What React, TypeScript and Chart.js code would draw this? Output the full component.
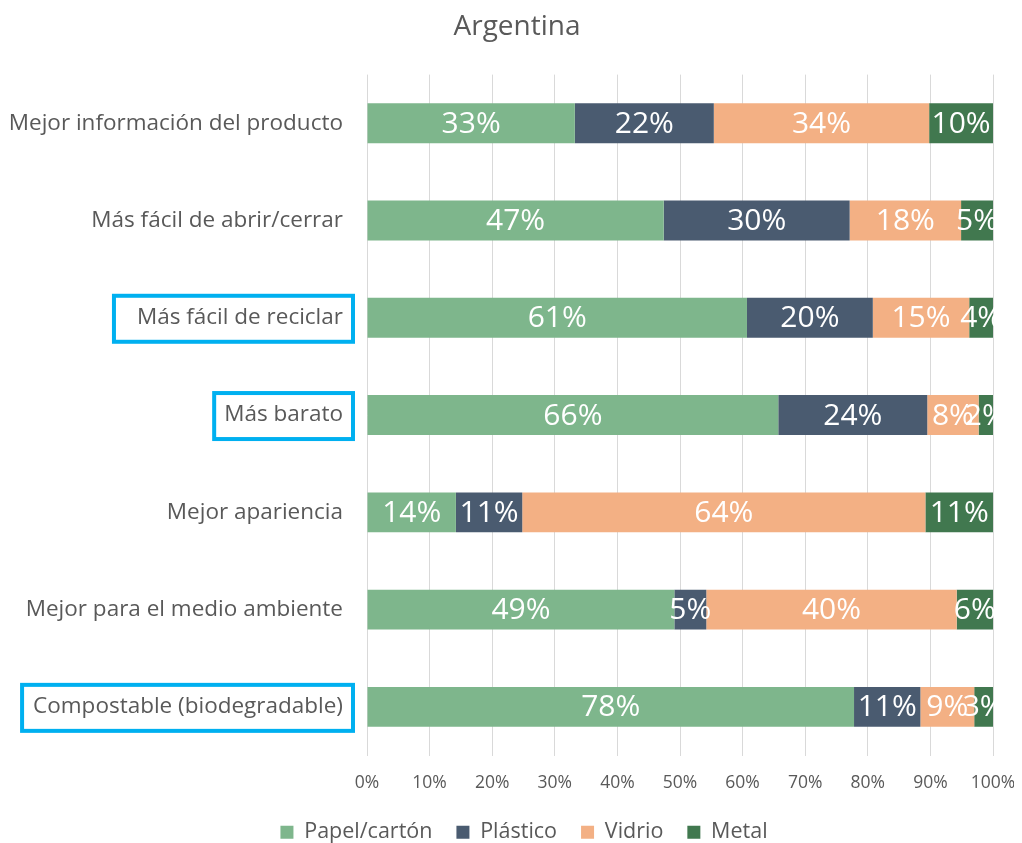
import React, { useEffect, useRef } from "react";
import { Chart, registerables } from "chart.js";

Chart.register(...registerables);

const categories = [
  "Mejor información del producto",
  "Más fácil de abrir/cerrar",
  "Más fácil de reciclar",
  "Más barato",
  "Mejor apariencia",
  "Mejor para el medio ambiente",
  "Compostable (biodegradable)",
];

const papel = [33.2, 47.4, 60.7, 65.7, 14.2, 49.1, 77.8];
const plastico = [22.2, 29.7, 20.1, 23.8, 10.6, 5.1, 10.6];
const vidrio = [34.4, 17.8, 15.4, 8.2, 64.4, 40.0, 8.6];
const metal = [10.2, 5.1, 3.8, 2.3, 10.8, 5.8, 3.0];

const seriesNames = ["Papel/cartón", "Plástico", "Vidrio", "Metal"];
const seriesColors = ["#7EB68C", "#4A5B70", "#F3B084", "#41784F"];

const chartTitle = "Argentina";
const highlighted = ["Más fácil de reciclar", "Más barato", "Compostable (biodegradable)"];
const highlightLeftPad = [23, 10, 11];

const FONT = "'Open Sans', sans-serif";
const TEXT = "#595959";
const LABEL_SIZE = 22.5;

export default function App() {
  const ref = useRef<HTMLCanvasElement>(null);

  useEffect(() => {
    if (!ref.current) return;

    const dataLabels = {
      id: "dataLabels",
      afterDatasetsDraw(chart: any) {
        const ctx = chart.ctx;
        ctx.save();
        ctx.font = `30px ${FONT}`;
        ctx.fillStyle = "#FFFFFF";
        ctx.textAlign = "center";
        ctx.textBaseline = "middle";
        chart.data.datasets.forEach((ds: any, i: number) => {
          const meta = chart.getDatasetMeta(i);
          meta.data.forEach((bar: any, j: number) => {
            const v = ds.data[j];
            const { x, y, base } = bar.getProps(["x", "y", "base"], true);
            ctx.fillText(Math.round(v) + "%", (x + base) / 2, y + 1);
          });
        });
        ctx.restore();
      },
    };

    const highlightBoxes = {
      id: "highlightBoxes",
      afterDraw(chart: any) {
        const ys = chart.scales.y;
        const ctx = chart.ctx;
        ctx.save();
        ctx.font = `${LABEL_SIZE}px ${FONT}`;
        ctx.strokeStyle = "#00B0F0";
        ctx.lineWidth = 4;
        const labelRight = ys.right - 24;
        highlighted.forEach((lab, k) => {
          const idx = categories.indexOf(lab);
          const cy = ys.getPixelForValue(idx);
          const w = ctx.measureText(lab).width;
          const x0 = labelRight - w - highlightLeftPad[k];
          const x1 = labelRight + 10;
          ctx.strokeRect(x0, cy - 22, x1 - x0, 46);
        });
        ctx.restore();
      },
    };

    const shiftBlocks = {
      id: "shiftBlocks",
      afterLayout(chart: any) {
        if (chart.legend) {
          chart.legend.left += 13;
          chart.legend.right += 13;
        }
        if (chart.titleBlock) {
          chart.titleBlock.left += 6;
          chart.titleBlock.right += 6;
        }
      },
    };

    const seriesData = [papel, plastico, vidrio, metal];

    const chart = new Chart(ref.current, {
      type: "bar",
      data: {
        labels: categories,
        datasets: seriesNames.map((name, i) => ({
          label: name,
          data: seriesData[i],
          backgroundColor: seriesColors[i],
          borderWidth: 0,
          barPercentage: 0.41,
          categoryPercentage: 1,
        })),
      },
      options: {
        indexAxis: "y",
        responsive: true,
        maintainAspectRatio: false,
        animation: false,
        layout: { padding: { left: 0, right: 0, top: 0, bottom: 6 } },
        plugins: {
          title: {
            display: true,
            text: chartTitle,
            color: TEXT,
            font: { family: FONT, size: 28, weight: "normal" },
            padding: { top: 2, bottom: 31 },
          },
          legend: {
            position: "bottom",
            labels: {
              color: TEXT,
              font: { family: FONT, size: 21.5 },
              boxWidth: 13,
              boxHeight: 13,
              padding: 24,
            },
          },
          tooltip: { enabled: false },
        },
        scales: {
          x: {
            stacked: true,
            min: 0,
            max: 100,
            ticks: {
              stepSize: 10,
              callback: (v: any) => v + "%",
              color: TEXT,
              font: { family: FONT, size: 17.5 },
              padding: 17,
            },
            grid: { color: "#D9D9D9", drawTicks: false },
            border: { display: false },
            afterFit: (s: any) => {
              s.height = 42;
              s.paddingRight = 21;
            },
          },
          y: {
            stacked: true,
            ticks: {
              color: TEXT,
              font: { family: FONT, size: LABEL_SIZE },
              padding: 24,
            },
            grid: { display: false, drawTicks: false },
            border: { display: false },
            afterFit: (s: any) => {
              s.width = 359;
            },
          },
        },
      },
      plugins: [dataLabels, highlightBoxes, shiftBlocks],
    } as any);

    return () => chart.destroy();
  }, []);

  return (
    <div style={{ width: 1006, height: 851, position: "relative" }}>
      <canvas ref={ref} />
    </div>
  );
}
